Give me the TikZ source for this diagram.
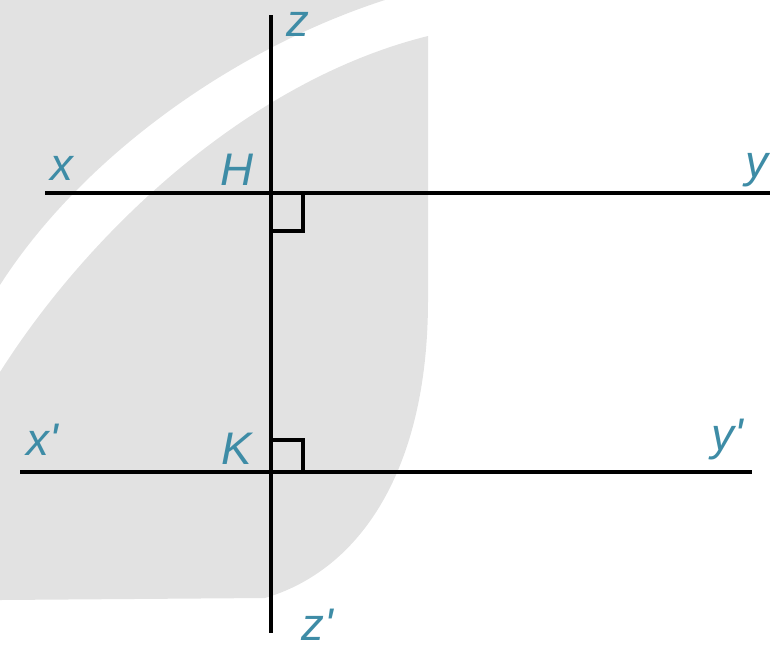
\documentclass[tikz,border=0pt]{standalone}
\usepackage{fontspec}
\setmainfont{Liberation Sans}
\usepackage{tikz}
\usetikzlibrary{calc}
\definecolor{lblue}{HTML}{3E8CA6}
\definecolor{wmgrey}{HTML}{E2E2E2}
\tikzset{
    lbl/.style={text=lblue, font=\fontsize{26}{30}\selectfont\itshape, inner sep=0pt},
    ln/.style={line width=2.3pt, black}
}

\begin{document}
\begin{tikzpicture}[x=0.02cm, y=-0.02cm]
        \useasboundingbox (0,0) rectangle (770,650);
        % watermark
        \fill[wmgrey] (0,0) -- (385,0) .. controls (230,50) and (80,160) .. (0,285) -- cycle;
        \fill[wmgrey] (428,36) .. controls (250,80) and (90,230) .. (0,372) -- (0,600) -- (265,598)
            .. controls (360,570) and (428,470) .. (428,300) -- cycle;

        \coordinate (H) at (271,193);
        \coordinate (K) at (271,472);
        \coordinate (x) at (45,193);
        \coordinate (y) at (770,193);
        \coordinate (x1) at (20,472);
        \coordinate (y1) at (752,472);
        \coordinate (z) at (271,15);
        \coordinate (z1) at (271,633);

        \draw[ln] (x)-- (y);
        \draw[ln] (x1)-- (y1);
        \draw[ln] (z)-- (z1);
        \draw[ln] ($(H)+(32,0)$)-- ++(0,38)-- ++(-32,0);
        \draw[ln] ($(K)+(0,-32)$)-- ++(32,0)-- ++(0,32);

        \node[lbl] (lz) at (298,24) {z};
        \node[lbl] (lx) at (62,168) {x};
        \node[lbl] (lH) at (237,170) {H};
        \node[lbl] (ly) at (757,170) {y};
        \node[lbl] (lx1) at (42,440) {x\textquotesingle};
        \node[lbl] (lK) at (237,449) {K};
        \node[lbl] (ly1) at (727,440) {y\textquotesingle};
        \node[lbl] (lz1) at (317,625) {z\textquotesingle};
    \end{tikzpicture}
\end{document}
